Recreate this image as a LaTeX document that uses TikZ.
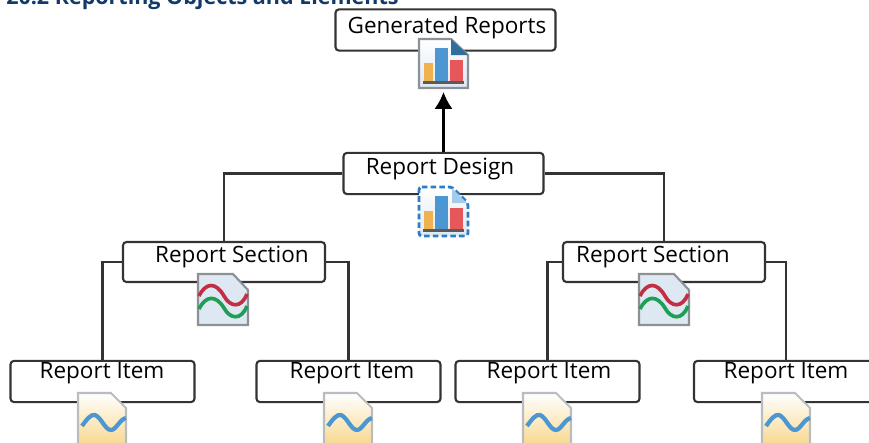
\documentclass[tikz,border=0pt]{standalone}
\usepackage{fontspec}
\setmainfont{Open Sans}
\usetikzlibrary{arrows.meta}

\definecolor{linegray}{HTML}{333333}
\definecolor{edgegray}{HTML}{8C9196}
\definecolor{titleblue}{HTML}{123A68}
\definecolor{barorange}{HTML}{EFB24E}
\definecolor{barblue}{HTML}{4C97D2}
\definecolor{barred}{HTML}{E6575A}
\definecolor{basegray}{HTML}{5E5A5A}
\definecolor{sheetblue}{HTML}{DDE8F2}
\definecolor{dashblue}{HTML}{2C7DC4}
\definecolor{curlblue}{HTML}{2F6F9C}
\definecolor{wavered}{HTML}{C22F45}
\definecolor{wavegreen}{HTML}{1F9E55}
\definecolor{sheetyellow}{HTML}{F9D88F}

\tikzset{
	x=0.025cm, y=-0.025cm,
	boxnode/.style={draw=linegray, line width=1.5pt, rounded corners=2.5pt, fill=white, inner sep=0pt},
	textnode/.style={font=\fontsize{16}{16}\selectfont, text=black, inner sep=0pt},
	wire/.style={draw=linegray, line width=1.5pt},
	bars/.pic={
		\fill[barorange] (5,24) rectangle (14,43);
		\fill[barblue] (16,9) rectangle (29,43);
		\fill[barred] (31,21) rectangle (44,43);
		\fill[basegray] (4,42) rectangle (45,45);
	},
	chartdoc/.pic={
		\draw[edgegray, top color=white, bottom color=sheetblue, line width=1.5pt] (0,0) -- (32,0) -- (49,16) -- (49,49) -- (0,49) -- cycle;
		\fill[curlblue] (32,0) -- (32,16) -- (49,16) -- cycle;
		\pic {bars};
	},
	designdoc/.pic={
		\draw[dashblue, top color=white, bottom color=sheetblue, line width=2pt, dash pattern=on 4pt off 2.2pt, rounded corners=2pt] (0,0) -- (33,0) -- (49,16) -- (49,49) -- (0,49) -- cycle;
		\fill[barblue!50] (33,1) -- (33,16) -- (48,16) -- cycle;
		\pic {bars};
	},
	sectiondoc/.pic={
		\draw[edgegray, fill=sheetblue, line width=1.5pt] (0,0) -- (35,0) -- (50,16) -- (50,51) -- (0,51) -- cycle;
		\draw[wavered, line width=2.6pt] (1,22) .. controls (8,8) and (18,8) .. (26,22) .. controls (32,33) and (43,35) .. (49,20);
		\draw[wavegreen, line width=2.6pt] (1,35) .. controls (8,21) and (18,21) .. (26,34) .. controls (32,45) and (43,47) .. (49,32);
	},
	itemdoc/.pic={
		\draw[edgegray!60, top color=white, bottom color=sheetyellow, line width=1.5pt] (0,0) -- (33,0) -- (48,15) -- (48,52) -- (0,52) -- cycle;
		\draw[barblue, line width=3pt] (4,33) .. controls (9,26) and (13,21) .. (17,22) .. controls (23,24) and (27,37) .. (33,37) .. controls (38,37) and (42,26) .. (48,25);
	}
}

\begin{document}
\begin{tikzpicture}
	\clip (0,0) rectangle (869,442);

	% tree boxes
	\node[boxnode, minimum width=5.5cm, minimum height=1.03cm] (generated) at (445.5,30) {};
	\node[boxnode, minimum width=5cm, minimum height=1.03cm] (design) at (443.5,173.5) {};
	\node[boxnode, minimum width=5.05cm, minimum height=1cm] (sectionleft) at (224,262) {};
	\node[boxnode, minimum width=5.05cm, minimum height=1cm] (sectionright) at (664,262) {};
	\node[boxnode, minimum width=4.6cm, minimum height=1.03cm] (itema) at (102.5,381.5) {};
	\node[boxnode, minimum width=4.6cm, minimum height=1.03cm] (itemb) at (348.5,381.5) {};
	\node[boxnode, minimum width=4.6cm, minimum height=1.03cm] (itemc) at (547.5,381.5) {};
	\node[boxnode, minimum width=4.6cm, minimum height=1.03cm] (itemd) at (786,381.5) {};
	\coordinate (generatedfoot) at (443.5,92);

	\draw[wire, draw=black, -{Latex[length=0.42cm,width=0.45cm]}] (design) -- (generatedfoot);
	\draw[wire] (design) -| (sectionleft);
	\draw[wire] (design) -| (sectionright);
	\draw[wire] (sectionleft) -| (itema);
	\draw[wire] (sectionleft) -| (itemb);
	\draw[wire] (sectionright) -| (itemc);
	\draw[wire] (sectionright) -| (itemd);

	% icons
	\pic at (419,39) {chartdoc};
	\pic at (419,187) {designdoc};
	\pic at (198,274) {sectiondoc};
	\pic at (639,274) {sectiondoc};
	\pic at (78,393) {itemdoc};
	\pic at (324,393) {itemdoc};
	\pic at (523,393) {itemdoc};
	\pic at (762,393) {itemdoc};

	% labels
	\node[textnode] (generatedtext) at (447,28) {Generated Reports};
	\node[textnode] (designtext) at (440,169) {Report Design};
	\node[textnode] (sectionlefttext) at (232,257) {Report Section};
	\node[textnode] (sectionrighttext) at (653,257) {Report Section};
	\node[textnode] (itematext) at (102,373) {Report Item};
	\node[textnode] (itembtext) at (352,373) {Report Item};
	\node[textnode] (itemctext) at (549,373) {Report Item};
	\node[textnode] (itemdtext) at (786,373) {Report Item};

	\node[anchor=base west, inner sep=0pt, text=titleblue, font=\bfseries\fontsize{15.3}{15.3}\selectfont] (title) at (6,4) {20.2 Reporting Objects and Elements};
\end{tikzpicture}
\end{document}
